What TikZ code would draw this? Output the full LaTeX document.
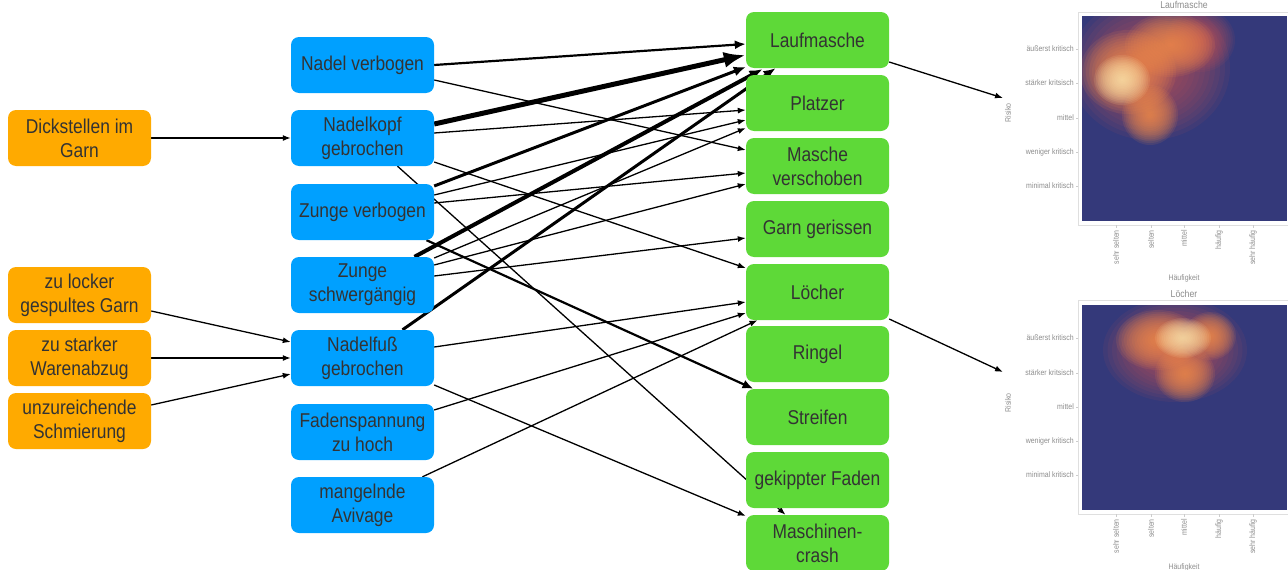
\documentclass[tikz,border=0pt]{standalone}
\usepackage{fontspec}
\setmainfont{Liberation Sans}[FakeStretch=0.87]
\usetikzlibrary{arrows.meta,calc,backgrounds}
\definecolor{cOrange}{RGB}{255,170,0}
\definecolor{cBlue}{RGB}{0,160,255}
\definecolor{cGreen}{RGB}{94,217,56}
\definecolor{hmBlue}{RGB}{52,57,122}
\definecolor{hmRed}{RGB}{200,85,85}
\definecolor{hmOrange}{RGB}{242,140,75}
\definecolor{hmYellow}{RGB}{255,232,175}
\definecolor{lblGray}{RGB}{140,140,140}
\newcommand\heatblob[6]{%
  \foreach \kk in {1,...,16}{\fill[#1, opacity=#6] (#2,#3) ellipse ({#4*\kk/16} and {#5*\kk/16});}}
\tikzset{
  box/.style={rounded corners=8pt, minimum width=143pt, minimum height=56pt, align=center, inner sep=2pt, font=\fontsize{20}{24}\selectfont, text=black!80},
  obox/.style={box, fill=cOrange},
  bbox/.style={box, fill=cBlue},
  gbox/.style={box, fill=cGreen},
  thinarr/.style={line width=1.3pt, -{Latex[length=8pt,width=6pt]}},
  medarr/.style={line width=2.2pt, -{Latex[length=11pt,width=9pt]}},
  bigarr/.style={line width=3pt, -{Latex[length=12pt,width=10pt]}},
  largearr/.style={line width=4pt, -{Latex[length=13pt,width=11pt]}},
  hugearr/.style={line width=5pt, -{Latex[length=22pt,width=16pt]}},
  ticklbl/.style={font=\fontsize{8}{9}\selectfont, text=lblGray, inner sep=1pt},
  titlelbl/.style={font=\fontsize{10}{12}\selectfont, text=lblGray, inner sep=1pt},
  axislbl/.style={font=\fontsize{8}{10}\selectfont, text=lblGray, inner sep=1pt}
}
\begin{document}
\begin{tikzpicture}[x=1pt,y=-1pt]
\useasboundingbox (0,0) rectangle (1288,570);
% orange causes
\node[obox] (O1) at (79.5,138) {Dickstellen im\\Garn};
\node[obox] (O2) at (79.5,295) {zu locker\\gespultes Garn};
\node[obox] (O3) at (79.5,358) {zu starker\\Warenabzug};
\node[obox] (O4) at (79.5,421) {unzureichende\\Schmierung};
% blue
\node[bbox] (B1) at (362.5,65) {Nadel verbogen};
\node[bbox] (B2) at (362.5,138) {Nadelkopf\\gebrochen};
\node[bbox] (B3) at (362.5,212) {Zunge verbogen};
\node[bbox] (B4) at (362.5,285) {Zunge\\schwergängig};
\node[bbox] (B5) at (362.5,358) {Nadelfuß\\gebrochen};
\node[bbox] (B6) at (362.5,432) {Fadenspannung\\zu hoch};
\node[bbox] (B7) at (362.5,505) {mangelnde\\Avivage};
% green
\node[gbox] (G1) at (817.5,40) {Laufmasche};
\node[gbox] (G2) at (817.5,103) {Platzer};
\node[gbox] (G3) at (817.5,166) {Masche\\verschoben};
\node[gbox] (G4) at (817.5,229) {Garn gerissen};
\node[gbox] (G5) at (817.5,292) {Löcher};
\node[gbox] (G6) at (817.5,354) {Ringel};
\node[gbox] (G7) at (817.5,417) {Streifen};
\node[gbox] (G8) at (817.5,480) {gekippter Faden};
\node[gbox] (G9) at (817.5,543) {Maschinen-\\crash};
\coordinate (H1) at (1003,98);
\coordinate (H2) at (1003,372);
\begin{pgfonlayer}{background}
\draw[thinarr] (O1.east) -- (B2.west);
\draw[thinarr] ($(O2.east)+(0,16)$) -- ($(B5.west)+(0,-16)$);
\draw[thinarr] (O3.east) -- (B5.west);
\draw[thinarr] ($(O4.east)+(0,-16)$) -- ($(B5.west)+(0,16)$);
\draw[medarr] (B1.east) -- ($(G1.west)+(0,4)$);
\draw[thinarr] ($(B1.east)+(0,15)$) -- ($(G3.west)+(0,-16)$);
\draw[hugearr] ($(B2.east)+(0,-14)$) -- ($(G1.west)+(0,15)$);
\draw[thinarr] ($(B2.east)+(0,-5)$) -- ($(G2.west)+(0,7)$);
\draw[thinarr] ($(B2.east)+(0,24)$) -- ($(G5.west)+(0,-24)$);
\draw[thinarr] ($(B2.south)+(35,0)$) -- ($(G9.north)+(-32,0)$);
\draw[bigarr] ($(B3.east)+(0,-26)$) -- ($(G1.west)+(0,27)$);
\draw[thinarr] ($(B3.east)+(0,-17)$) -- ($(G2.west)+(0,17)$);
\draw[thinarr] ($(B3.east)+(0,-9)$) -- ($(G3.west)+(0,7)$);
\draw[medarr] ($(B3.south)+(64,0)$) -- ($(G7.north)+(-64,0)$);
\draw[largearr] ($(B4.north)+(52,0)$) -- ($(G1.south)+(-55,1)$);
\draw[thinarr] ($(B4.east)+(0,-27)$) -- ($(G2.west)+(0,25)$);
\draw[thinarr] ($(B4.east)+(0,-20)$) -- ($(G3.west)+(0,18)$);
\draw[thinarr] ($(B4.east)+(0,-9)$) -- ($(G4.west)+(0,9)$);
\draw[bigarr] ($(B5.north)+(40,0)$) -- ($(G1.south)+(-42,0)$);
\draw[thinarr] ($(B5.east)+(0,-11)$) -- ($(G5.west)+(0,10)$);
\draw[thinarr] ($(B5.east)+(0,27)$) -- ($(G9.west)+(0,-27)$);
\draw[thinarr] ($(B6.east)+(0,-22)$) -- ($(G5.west)+(0,21)$);
\draw[thinarr] ($(B7.north)+(60,0)$) -- ($(G5.south)+(-60,0)$);
\draw[thinarr] ($(G1.east)+(0,22)$) -- (H1);
\draw[thinarr] ($(G5.east)+(0,27)$) -- (H2);
\end{pgfonlayer}
% ---------- heatmap 1: Laufmasche
\node[titlelbl] at (1184,5) {Laufmasche};
\draw[gray!25] (1078,12) rectangle (1288,225);
\begin{scope}
\clip (1082,16) rectangle (1287,221);
\fill[hmBlue] (1082,16) rectangle (1287,221);
\heatblob{hmRed}{1150}{68}{80}{72}{0.085}
\heatblob{hmRed}{1200}{40}{35}{32}{0.085}
\heatblob{hmOrange}{1128}{72}{48}{42}{0.11}
\heatblob{hmOrange}{1170}{45}{45}{32}{0.11}
\heatblob{hmOrange}{1150}{115}{28}{30}{0.11}
\heatblob{hmYellow}{1122}{80}{28}{25}{0.1}
\end{scope}
\foreach \yy/\tt in {49/äußerst kritisch,83/stärker kritsisch,118/mittel,152/weniger kritisch,186/minimal kritisch}{
  \draw[gray!40] (1076,\yy) -- (1078,\yy);
  \node[ticklbl, anchor=east] at (1075,\yy) {\tt};
}
\foreach \xx/\tt in {1116/sehr selten,1151/selten,1184/mittel,1219/häufig,1253/sehr häufig}{
  \draw[gray!40] (\xx,225) -- (\xx,228);
  \node[ticklbl, anchor=east, rotate=90] at (\xx,229) {\tt};
}
\node[axislbl] at (1184,278) {Häufigkeit};
\node[axislbl, rotate=90] at (1008,113) {Risiko};
% ---------- heatmap 2: Löcher
\node[titlelbl] at (1184,294) {Löcher};
\draw[gray!25] (1078,300) rectangle (1288,514);
\begin{scope}
\clip (1082,305) rectangle (1287,510);
\fill[hmBlue] (1082,305) rectangle (1287,510);
\heatblob{hmRed}{1175}{350}{72}{52}{0.085}
\heatblob{hmOrange}{1158}{340}{42}{30}{0.11}
\heatblob{hmOrange}{1185}{374}{30}{28}{0.11}
\heatblob{hmOrange}{1210}{336}{26}{24}{0.11}
\heatblob{hmYellow}{1183}{338}{28}{20}{0.1}
\end{scope}
\foreach \yy/\tt in {338/äußerst kritisch,373/stärker kritsisch,407/mittel,441/weniger kritisch,475/minimal kritisch}{
  \draw[gray!40] (1076,\yy) -- (1078,\yy);
  \node[ticklbl, anchor=east] at (1075,\yy) {\tt};
}
\foreach \xx/\tt in {1116/sehr selten,1151/selten,1184/mittel,1219/häufig,1253/sehr häufig}{
  \draw[gray!40] (\xx,514) -- (\xx,517);
  \node[ticklbl, anchor=east, rotate=90] at (\xx,518) {\tt};
}
\node[axislbl] at (1184,567) {Häufigkeit};
\node[axislbl, rotate=90] at (1008,403) {Risiko};
\end{tikzpicture}
\end{document}
